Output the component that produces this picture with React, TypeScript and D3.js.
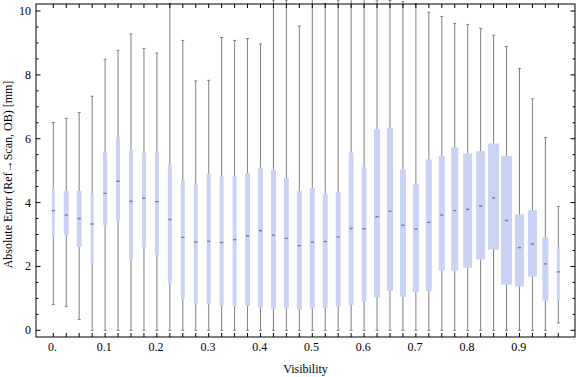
import React from "react";
import * as d3 from "d3";

// Visibility bins (box positions)
const visibility = d3.range(40).map((i) => +(i * 0.025).toFixed(3));

// Box-whisker statistics (mm)
const whiskerLow = [
  0.81, 0.75, 0.34, 0, 0, 0, 0, 0, 0, 0,
  0, 0, 0, 0, 0, 0, 0, 0, 0, 0,
  0, 0, 0, 0, 0, 0, 0, 0, 0, 0,
  0, 0, 0, 0, 0, 0, 0, 0, 0, 0.23,
];
const q1 = [
  2.9, 2.98, 2.61, 2.1, 3.3, 3.42, 2.24, 2.61, 2.36, 1.48,
  0.98, 0.82, 0.82, 0.76, 0.76, 0.76, 0.7, 0.67, 0.69, 0.64,
  0.68, 0.71, 0.74, 0.8, 0.92, 1.02, 1.23, 1.05, 1.2, 1.23,
  1.87, 1.87, 1.96, 2.22, 2.53, 1.43, 1.37, 1.68, 0.93, 0.93,
];
const median = [
  3.75, 3.61, 3.5, 3.33, 4.29, 4.67, 4.04, 4.14, 4.03, 3.47,
  2.91, 2.76, 2.79, 2.75, 2.84, 2.96, 3.12, 2.98, 2.88, 2.65,
  2.76, 2.78, 2.92, 3.19, 3.18, 3.56, 3.73, 3.29, 3.17, 3.38,
  3.61, 3.75, 3.79, 3.89, 4.15, 3.44, 2.59, 2.7, 2.08, 1.83,
];
const q3 = [
  4.45, 4.36, 4.36, 4.27, 5.57, 6.05, 5.64, 5.55, 5.58, 5.17,
  4.69, 4.6, 4.91, 4.82, 4.84, 4.93, 5.09, 5.04, 4.78, 4.36,
  4.45, 4.26, 4.33, 5.57, 5.1, 6.3, 6.34, 5.04, 4.58, 5.35,
  5.46, 5.73, 5.54, 5.61, 5.85, 5.46, 3.63, 3.76, 2.91, 2.62,
];
const whiskerHigh = [
  6.51, 6.64, 6.82, 7.33, 8.49, 8.77, 9.28, 8.83, 8.68, 10.24,
  9.08, 7.81, 7.83, 9.17, 9.08, 9.14, 8.97, 10.34, 10.34, 9.53,
  10.6, 10.24, 10.34, 10.6, 10.6, 10.34, 10.33, 10.3, 10.23, 9.96,
  9.83, 9.61, 9.58, 9.46, 9.24, 8.89, 8.2, 7.25, 6.04, 3.88,
];
// Relative box widths (share of widest box)
const boxWeight = [
  0.25, 0.45, 0.45, 0.27, 0.38, 0.36, 0.36, 0.36, 0.36, 0.36,
  0.36, 0.36, 0.36, 0.36, 0.36, 0.45, 0.45, 0.45, 0.45, 0.45,
  0.45, 0.45, 0.45, 0.45, 0.45, 0.55, 0.55, 0.55, 0.55, 0.55,
  0.55, 0.64, 0.82, 0.82, 1, 1, 0.82, 0.82, 0.55, 0.27,
];

const xTickValues = [0, 0.1, 0.2, 0.3, 0.4, 0.5, 0.6, 0.7, 0.8, 0.9];
const xTickLabels = ["0.", "0.1", "0.2", "0.3", "0.4", "0.5", "0.6", "0.7", "0.8", "0.9"];
const yTickValues = [0, 2, 4, 6, 8, 10];
const yTickLabels = ["0", "2", "4", "6", "8", "10"];

const W = 576;
const H = 377;
const frame = { left: 36, right: 575, top: 4, bottom: 337 };
const FONT = "'Liberation Serif', 'Times New Roman', serif";

export default function App() {
  const x = d3.scaleLinear().domain([-0.0334, 1.0072]).range([frame.left, frame.right]);
  const y = d3.scaleLinear().domain([-0.21, 10.22]).range([frame.bottom, frame.top]);
  const wScale = d3.scaleLinear().domain([0, 1]).range([0, 11]);

  const minorY = d3.range(0, 10.01, 0.5).filter((v) => Math.abs(v % 2) > 1e-6);

  const boxFill = "#cbd3f5";
  const whiskerColor = "#808080";

  return (
    <svg
      width={W}
      height={H}
      style={{ position: "absolute", left: 0, top: 0, display: "block" }}
      fontFamily={FONT}
    >
      <rect x={0} y={0} width={W} height={H} fill="white" />
      {/* boxes and whiskers */}
      {visibility.map((v, i) => {
        const cx = x(v);
        const bw = wScale(boxWeight[i]);
        const capW = 3;
        return (
          <g key={i}>
            <line x1={cx} x2={cx} y1={y(whiskerLow[i])} y2={y(whiskerHigh[i])} stroke={whiskerColor} strokeWidth={1} />
            <line x1={cx - capW / 2} x2={cx + capW / 2} y1={y(whiskerLow[i])} y2={y(whiskerLow[i])} stroke={whiskerColor} strokeWidth={1} />
            <line x1={cx - capW / 2} x2={cx + capW / 2} y1={y(whiskerHigh[i])} y2={y(whiskerHigh[i])} stroke={whiskerColor} strokeWidth={1} />
            <rect
              x={cx - bw / 2}
              y={y(q3[i])}
              width={bw}
              height={y(q1[i]) - y(q3[i])}
              fill={boxFill}
            />
            <line x1={cx - 1.6} x2={cx + 1.6} y1={y(median[i])} y2={y(median[i])} stroke="#7a7a88" strokeWidth={1.4} />
          </g>
        );
      })}
      {/* frame */}
      <rect
        x={frame.left}
        y={frame.top}
        width={frame.right - frame.left}
        height={frame.bottom - frame.top}
        fill="none"
        stroke="black"
        strokeWidth={1}
      />
      {/* x ticks at boxes (bottom and top, inward) */}
      {visibility.map((v, i) => (
        <g key={"xt" + i}>
          <line x1={x(v)} x2={x(v)} y1={frame.bottom} y2={frame.bottom - 4} stroke="black" strokeWidth={1} />
          <line x1={x(v)} x2={x(v)} y1={frame.top} y2={frame.top + 4} stroke="black" strokeWidth={1} />
        </g>
      ))}
      {/* y ticks */}
      {yTickValues.map((v) => (
        <g key={"yt" + v}>
          <line x1={frame.left} x2={frame.left + 4.5} y1={y(v)} y2={y(v)} stroke="black" strokeWidth={1} />
          <line x1={frame.right} x2={frame.right - 4.5} y1={y(v)} y2={y(v)} stroke="black" strokeWidth={1} />
        </g>
      ))}
      {minorY.map((v) => (
        <g key={"ym" + v}>
          <line x1={frame.left} x2={frame.left + 2.5} y1={y(v)} y2={y(v)} stroke="black" strokeWidth={1} />
          <line x1={frame.right} x2={frame.right - 2.5} y1={y(v)} y2={y(v)} stroke="black" strokeWidth={1} />
        </g>
      ))}
      {/* tick labels */}
      {xTickValues.map((v, i) => (
        <text key={"xl" + i} x={x(v) - 0.8} y={351} textAnchor="middle" fontSize={12} fill="black">
          {xTickLabels[i]}
        </text>
      ))}
      {yTickValues.map((v, i) => (
        <text key={"yl" + i} x={31} y={y(v) + 4} textAnchor="end" fontSize={12} fill="black">
          {yTickLabels[i]}
        </text>
      ))}
      {/* axis titles */}
      <text x={(frame.left + frame.right) / 2} y={373} textAnchor="middle" fontSize={12} fill="black">
        Visibility
      </text>
      <text
        transform={`translate(11.5, ${(frame.top + frame.bottom) / 2 + 4}) rotate(-90)`}
        textAnchor="middle"
        fontSize={12}
        fill="black"
      >
        Absolute Error (Ref→Scan, OB) [mm]
      </text>
    </svg>
  );
}
